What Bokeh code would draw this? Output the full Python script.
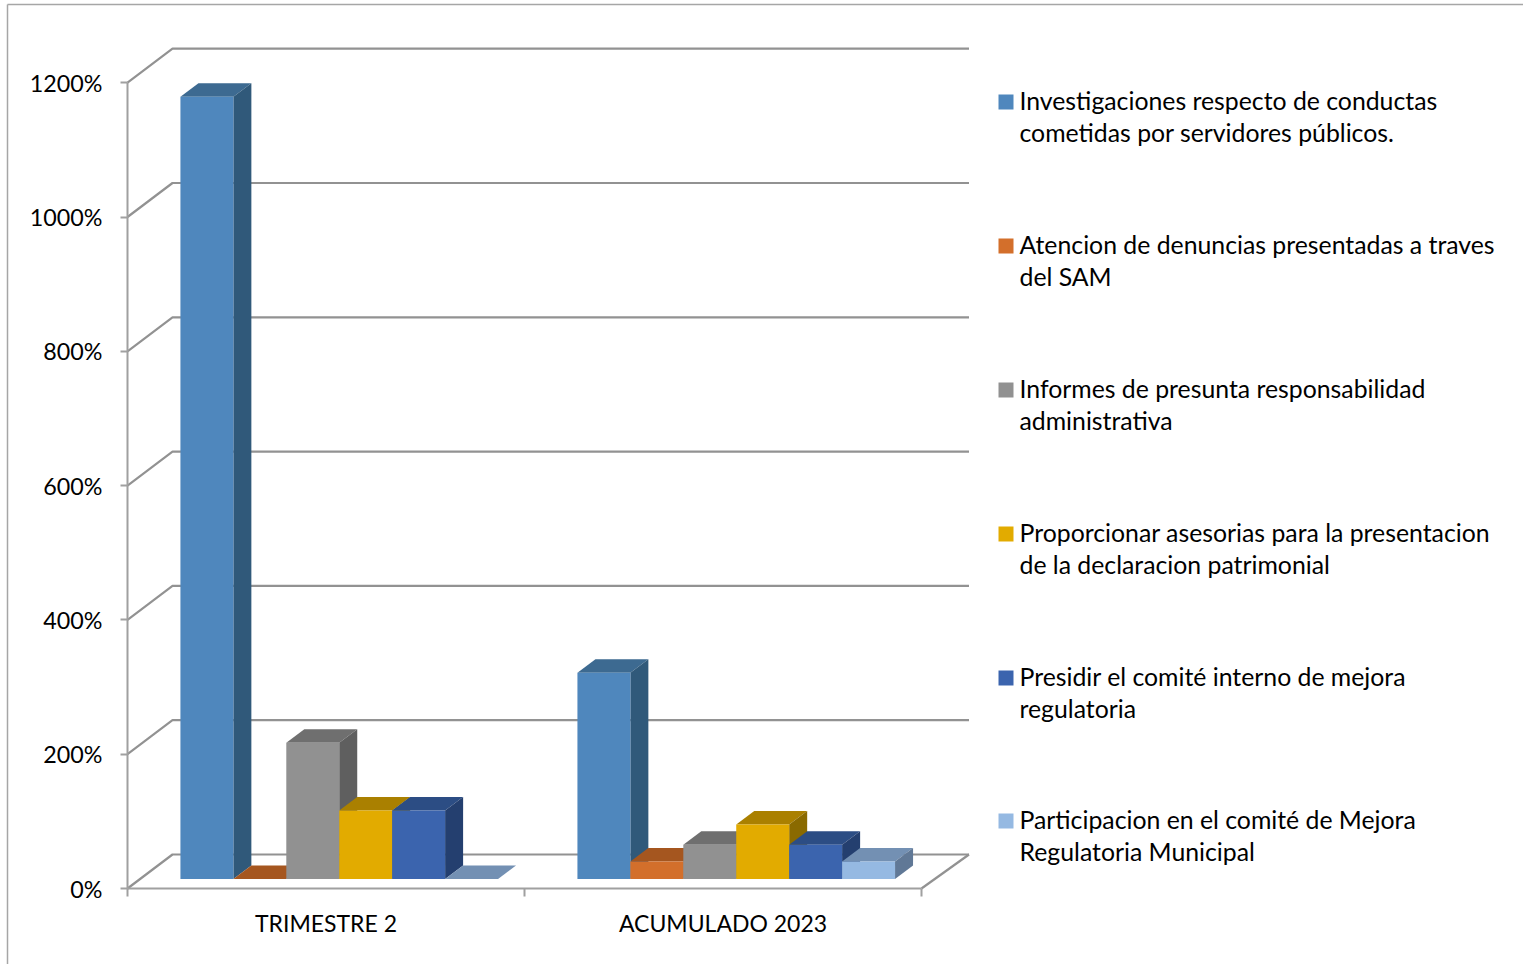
from bokeh.plotting import figure
from bokeh.embed import file_html
from bokeh.resources import INLINE
from bokeh.core.properties import value
from bokeh.models import FixedTicker, LinearAxis, PrintfTickFormatter, Range1d

categories = ["TRIMESTRE 2", "ACUMULADO 2023"]
series_names = [
    ["Investigaciones respecto de conductas", "cometidas por servidores públicos."],
    ["Atencion de denuncias presentadas a traves", "del SAM"],
    ["Informes de presunta responsabilidad", "administrativa"],
    ["Proporcionar asesorias para la presentacion", "de la declaracion patrimonial"],
    ["Presidir el comité interno de mejora", "regulatoria"],
    ["Participacion en el comité de Mejora", "Regulatoria Municipal"],
]
inv = [1165, 307]
den = [0, 26]
inf = [203, 51]
ase = [102, 81]
pre = [102, 51]
par = [0, 26]
series_values = [inv, den, inf, ase, pre, par]
y_ticks = [0, 200, 400, 600, 800, 1000, 1200]

front = ["#4F87BD", "#D36F2B", "#919191", "#E2AB00", "#3B64AE", "#95B9E2"]
top = ["#3D6A91", "#A5561F", "#6F6F6F", "#AA8000", "#2C4D84", "#7390B3"]
side = ["#30597A", "#8A4717", "#5F5F5F", "#8A6A00", "#243F6F", "#607896"]
GRID = "#929292"
AXIS = "#A0A0A0"
FONT = "Lato"

# layout (pixels of the page)
FIG_L, FIG_T, W, H = 0, 0, 1523, 964
PX_X, PX_Y = 397.0, 134.3 / 200
ORG_X, ORG_Y = 127.0, 888.0
px = lambda d: d / PX_X      # horizontal pixels -> x units
py = lambda d: d / PX_Y      # vertical pixels -> value units
X = lambda page: px(page - ORG_X)
Y = lambda page: py(ORG_Y - page)
xr = Range1d(X(FIG_L), X(FIG_L + W))
yr = Range1d(Y(FIG_T + H), Y(FIG_T))

p = figure(width=W, height=H, x_range=xr, y_range=yr, output_backend="svg", toolbar_location=None,
           x_axis_type=None, y_axis_type=None, min_border=0, outline_line_color=None)
p.grid.visible = False

# outer frame of the picture
p.segment(X(7), Y(4), xr.end, Y(4), line_color="#A6A6A6", line_width=1.5)
p.segment(X(7), Y(4), X(7), yr.start, line_color="#A6A6A6", line_width=1.5)

# walls
DEPTH_X, DEPTH_Y, DEPTH_END = px(45), py(34), px(47.5)
END = len(categories)
for v in y_ticks:
    p.line([0, DEPTH_X, END + DEPTH_END], [v, v + DEPTH_Y, v + DEPTH_Y], line_color=GRID, line_width=2.2)
p.line([END, END + DEPTH_END], [0, DEPTH_Y], line_color=GRID, line_width=2.2)

# bars
BAR = 1 / 7.5
BASE = py(9.5)
BX, BY = px(18), py(13.5)
for i, vals in enumerate(series_values):
    x0 = [g + BAR + i * BAR for g in range(len(vals))]
    x1 = [x + BAR for x in x0]
    yb = [BASE] * len(vals)
    yt = [BASE + v for v in vals]
    p.patches(xs=[[a, b, b + BX, a + BX] for a, b in zip(x0, x1)],
              ys=[[t, t, t + BY, t + BY] for t in yt], fill_color=top[i], line_color=None)
    p.patches(xs=[[b, b + BX, b + BX, b] for b in x1],
              ys=[[s, s + BY, t + BY, t] for s, t in zip(yb, yt)], fill_color=side[i], line_color=None)
    p.quad(left=x0, right=x1, bottom=yb, top=yt, fill_color=front[i], line_color=None)

# axes
yaxis = LinearAxis(fixed_location=0, ticker=FixedTicker(ticks=y_ticks),
                   formatter=PrintfTickFormatter(format="%d%%"), bounds=(0, 1200),
                   axis_line_color=AXIS, axis_line_width=2, major_tick_line_color=AXIS,
                   major_tick_line_width=2, major_tick_out=7, major_tick_in=0, minor_tick_out=0,
                   major_label_standoff=18, major_label_text_font=FONT,
                   major_label_text_font_size="23.3px", major_label_text_color="#000000")
p.add_layout(yaxis, "left")
xaxis = LinearAxis(fixed_location=0, ticker=FixedTicker(ticks=[0.5, 1.5], minor_ticks=[0, 1, 2]),
                   major_label_overrides={0.5: categories[0], 1.5: categories[1]}, bounds=(0, 2),
                   axis_line_color=AXIS, axis_line_width=2, major_tick_out=0, major_tick_in=0,
                   minor_tick_line_color=AXIS, minor_tick_line_width=2, minor_tick_out=8, minor_tick_in=0,
                   major_label_standoff=12, major_label_text_font=FONT,
                   major_label_text_font_size="23px", major_label_text_color="#000000")
p.add_layout(xaxis, "below")

# legend: one swatch per series, two lines of text beside it
LEG_Y = [101, 245, 389, 533, 677, 820]
LEG_SWATCH_X, LEG_TEXT_X, LEG_SIZE, LEG_LINE = 1005.5, 1019, 15, 32.3
p.rect(x=[X(LEG_SWATCH_X)] * 6, y=[Y(v + 0.5) for v in LEG_Y], width=LEG_SIZE, height=LEG_SIZE,
       width_units="screen", height_units="screen", fill_color=front, line_color=None)
for j in range(2):
    p.text(x=[X(LEG_TEXT_X)] * 6, y=[Y(v - 1 + j * LEG_LINE) for v in LEG_Y],
           text=[s[j] for s in series_names], text_font=value(FONT), text_font_size="24.8px",
           text_baseline="middle", text_align="left", text_color="#000000")

open("out.html", "w").write(file_html(p, INLINE))
